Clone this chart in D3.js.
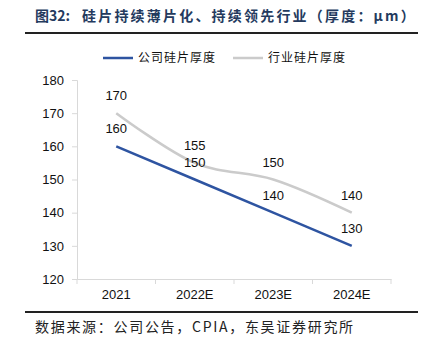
<!DOCTYPE html>
<html>
<head>
<meta charset="utf-8">
<script src="https://cdn.jsdelivr.net/npm/d3@7"></script>
<style>
  body { margin: 0; background: #fff; }
  svg { display: block; }
</style>
</head>
<body>
<script>
var years = ['2021', '2022E', '2023E', '2024E'];
var companyValues = [160, 150, 140, 130];
var industryValues = [170, 155, 150, 140];
var yTicks = [120, 130, 140, 150, 160, 170, 180];
var seriesNames = ['公司硅片厚度', '行业硅片厚度'];
var seriesColors = ['#2e54a1', '#cbcbcb'];

var width = 423, height = 351;
var plot = { left: 77, right: 391, top: 80, bottom: 279 };

var svg = d3.select('body').append('svg')
    .attr('width', width)
    .attr('height', height);

// title
var title = svg.append('text')
    .attr('x', 35)
    .attr('y', 21)
    .attr('font-family', '"Noto Sans CJK SC", sans-serif')
    .attr('font-weight', 'bold')
    .attr('font-size', 14)
    .attr('fill', '#243a5e');
title.append('tspan').text('图32:');
title.append('tspan')
    .attr('x', 82)
    .attr('letter-spacing', 2.2)
    .text('硅片持续薄片化、持续领先行业（厚度：μm）');

svg.append('line')
    .attr('x1', 25).attr('x2', 418)
    .attr('y1', 33).attr('y2', 33)
    .attr('stroke', '#222')
    .attr('stroke-width', 2);

var x = d3.scaleBand()
    .domain(years)
    .range([plot.left, plot.right]);

var y = d3.scaleLinear()
    .domain([120, 180])
    .range([plot.bottom, plot.top]);

// y axis
var yAxis = svg.append('g')
    .attr('transform', `translate(${plot.left},0)`)
    .call(d3.axisLeft(y).tickValues(yTicks).tickSize(5).tickPadding(8));
yAxis.selectAll('text')
    .attr('font-family', '"Liberation Sans", Arial, sans-serif')
    .attr('font-size', 13)
    .attr('fill', '#111');

// x axis
var xAxis = svg.append('g')
    .attr('transform', `translate(0,${plot.bottom})`)
    .call(d3.axisBottom(x).tickSize(0).tickPadding(11));
xAxis.selectAll('text')
    .attr('font-family', '"Liberation Sans", Arial, sans-serif')
    .attr('font-size', 13)
    .attr('fill', '#111');
xAxis.selectAll('.boundary')
    .data(d3.range(years.length + 1))
    .enter()
    .append('line')
    .attr('class', 'boundary')
    .attr('x1', (i) => plot.left + i * x.step())
    .attr('x2', (i) => plot.left + i * x.step())
    .attr('y1', 0).attr('y2', 5)
    .attr('stroke', '#d9d9d9');

svg.selectAll('.domain, .tick line').attr('stroke', '#d9d9d9');

var cx = (d, i) => x(years[i]) + x.bandwidth() / 2;

// lines
var straight = d3.line()
    .x((d, i) => cx(d, i))
    .y((d) => y(d));

var smooth = d3.line()
    .x((d, i) => cx(d, i))
    .y((d) => y(d))
    .curve(d3.curveCardinal.tension(0));

svg.append('path')
    .datum(industryValues)
    .attr('d', smooth)
    .attr('fill', 'none')
    .attr('stroke', seriesColors[1])
    .attr('stroke-width', 2.5);

svg.append('path')
    .datum(companyValues)
    .attr('d', straight)
    .attr('fill', 'none')
    .attr('stroke', seriesColors[0])
    .attr('stroke-width', 2.5);

// value labels
[companyValues, industryValues].forEach(function (vals) {
    svg.selectAll(null)
        .data(vals)
        .enter()
        .append('text')
        .attr('x', (d, i) => cx(d, i))
        .attr('y', (d) => y(d) - 13)
        .attr('text-anchor', 'middle')
        .attr('font-family', '"Liberation Sans", Arial, sans-serif')
        .attr('font-size', 13)
        .attr('fill', '#111')
        .text((d) => d);
});

// legend
var legendX = [103, 233];
seriesNames.forEach(function (name, i) {
    svg.append('line')
        .attr('x1', legendX[i]).attr('x2', legendX[i] + 30)
        .attr('y1', 58).attr('y2', 58)
        .attr('stroke', seriesColors[i])
        .attr('stroke-width', 2.5);
    svg.append('text')
        .attr('x', legendX[i] + 35)
        .attr('y', 62)
        .attr('font-family', '"Noto Sans CJK SC", sans-serif')
        .attr('font-size', 12)
        .attr('letter-spacing', 1)
        .attr('fill', '#111')
        .text(name);
});

// footer
svg.append('line')
    .attr('x1', 25).attr('x2', 418)
    .attr('y1', 312).attr('y2', 312)
    .attr('stroke', '#222')
    .attr('stroke-width', 2);

svg.append('text')
    .attr('x', 35)
    .attr('y', 332)
    .attr('font-family', '"Noto Sans CJK SC", sans-serif')
    .attr('font-size', 14)
    .attr('letter-spacing', 1.7)
    .attr('fill', '#222')
    .text('数据来源：公司公告，CPIA，东吴证券研究所');
</script>
</body>
</html>
